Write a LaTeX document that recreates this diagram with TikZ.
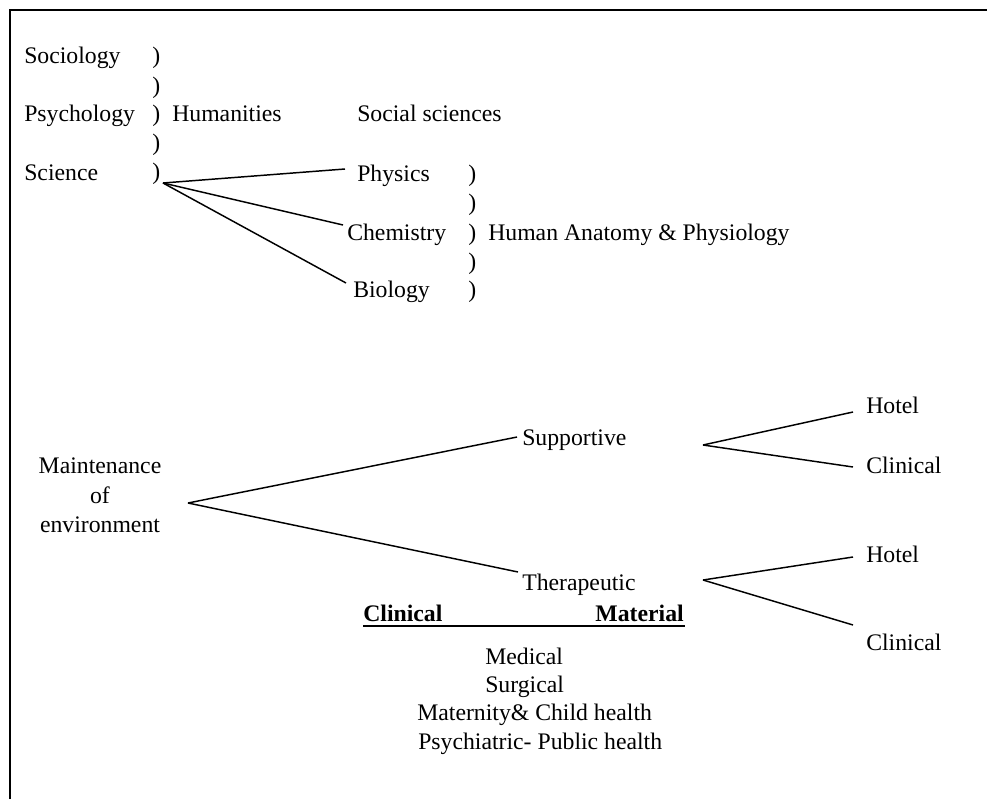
\documentclass[tikz,border=0pt]{standalone}
\usepackage{fontspec}
\setmainfont{Liberation Serif}
\begin{document}
\begin{tikzpicture}[x=0.75pt,y=-0.75pt,
  txt/.style={inner sep=0pt, anchor=base west, font=\fontsize{17.8}{21}\selectfont},
  ctr/.style={inner sep=0pt, anchor=base, font=\fontsize{17.8}{21}\selectfont},
  bold/.style={txt, font=\fontsize{17.8}{21}\selectfont\bfseries},
  link/.style={line width=1.1pt},
  frame/.style={line width=1.6pt}]
\useasboundingbox (0,0) rectangle (987,799);

% open frame: top and left edges
\draw[frame] (10,799) -- (10,10) -- (987,10);

% ---- first group ----
\node[txt] (soc)  at (24,64)  {Sociology};
\node[txt] (psy)  at (24,121) {Psychology};
\node[txt] (sci)  at (24,180) {Science};
\node[txt] (pa1)  at (152,64)  {)};
\node[txt] (pa2)  at (152,93)  {)};
\node[txt] (pa3)  at (152,121) {)};
\node[txt] (pa4)  at (152,150) {)};
\node[txt] (pa5)  at (152,179) {)};
\node[txt] (hum)  at (172,121) {Humanities};
\node[txt] (socs) at (357,121) {Social sciences};

\node[txt] (phys) at (357,181) {Physics};
\node[txt] (chem) at (347,240) {Chemistry};
\node[txt] (bio)  at (353,297) {Biology};
\node[txt] (pb1)  at (468,181) {)};
\node[txt] (pb2)  at (468,210) {)};
\node[txt] (pb3)  at (468,240) {)};
\node[txt] (pb4)  at (468,269) {)};
\node[txt] (pb5)  at (468,297) {)};
\node[txt] (anat) at (488,240) {Human Anatomy \& Physiology};

\coordinate (sciFork) at (163,183);
\draw[link] (sciFork) -- ([shift={(-12,-12)}]phys.base west);
\draw[link] (sciFork) -- ([shift={(-4,-15)}]chem.base west);
\draw[link] (sciFork) -- ([shift={(-7,-14)}]bio.base west);

% ---- second group ----
\node[ctr] (mt1) at (100,473) {Maintenance};
\node[ctr] (mt2) at (100,503) {of};
\node[ctr] (mt3) at (100,532) {environment};

\node[txt] (sup) at (522,445) {Supportive};
\node[txt] (the) at (522,590) {Therapeutic};

\coordinate (envFork) at (188,503);
\draw[link] (envFork) -- ([shift={(-5,-8)}]sup.base west);
\draw[link] (envFork) -- ([shift={(-4,-18)}]the.base west);

\node[txt] (hot1) at (866,413) {Hotel};
\node[txt] (cli1) at (866,473) {Clinical};
\node[txt] (hot2) at (866,562) {Hotel};
\node[txt] (cli2) at (866,650) {Clinical};

\coordinate (supFork) at (703,445);
\coordinate (theFork) at (703,580);
\draw[link] (supFork) -- ([shift={(-13,-1)}]hot1.base west);
\draw[link] (supFork) -- ([shift={(-13,-6)}]cli1.base west);
\draw[link] (theFork) -- ([shift={(-13,-5)}]hot2.base west);
\draw[link] (theFork) -- ([shift={(-13,-25)}]cli2.base west);

% underlined heading and list
\node[bold] (clinH) at (363,621) {Clinical};
\node[bold, anchor=base east] (matH) at (684,621) {Material};
\draw[line width=2.2pt] ([shift={(0,5)}]clinH.base west) -- ([shift={(1,5)}]matH.base east);

\node[txt] (med)  at (485,664) {Medical};
\node[txt] (sur)  at (485,692) {Surgical};
\node[txt] (mat)  at (417,720) {Maternity\& Child health};
\node[txt] (psyc) at (418,749) {Psychiatric- Public health};
\end{tikzpicture}
\end{document}
